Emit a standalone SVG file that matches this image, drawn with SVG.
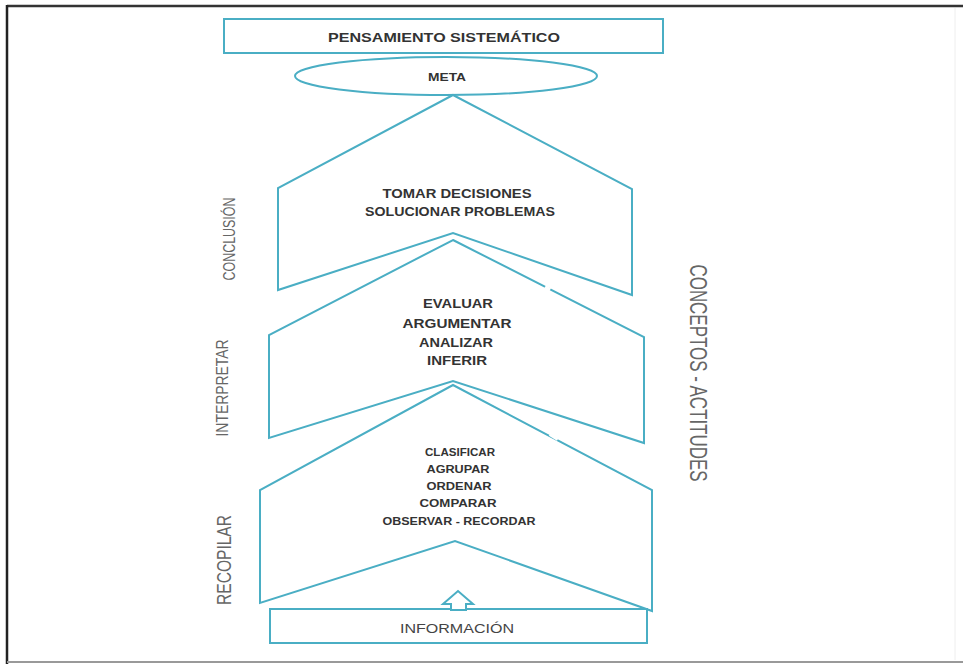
<svg xmlns="http://www.w3.org/2000/svg" width="963" height="664" viewBox="0 0 963 664">
<style>
.sh{fill:none;stroke:#4aaec4;stroke-width:2;stroke-linejoin:miter}
.t{font-family:"Liberation Sans",Arial,sans-serif;font-weight:bold;fill:#333;text-anchor:middle;font-size:12px}
.s{font-family:"Liberation Sans",Arial,sans-serif;font-weight:bold;fill:#333;text-anchor:middle;font-size:10.5px}
.v{font-family:"Liberation Sans",Arial,sans-serif;fill:#666;text-anchor:middle}
</style>
<rect width="963" height="664" fill="#fff"/>
<g id="frame">
<line x1="7" y1="6" x2="963" y2="6" stroke="#333" stroke-width="2.5"/>
<line x1="7" y1="5" x2="7" y2="664" stroke="#222" stroke-width="2.5"/>
<line x1="7" y1="662" x2="963" y2="662" stroke="#999" stroke-width="2"/>
<line x1="955" y1="8" x2="955" y2="660" stroke="#eee" stroke-width="1"/>
</g>
<g id="pensamiento">
<rect class="sh" x="224" y="19" width="439" height="34"/>
<text class="t" x="444" y="42" textLength="232" lengthAdjust="spacingAndGlyphs">PENSAMIENTO  SISTEMÁTICO</text>
</g>
<g id="meta">
<ellipse class="sh" cx="446" cy="76" rx="151" ry="19"/>
<text class="s" x="447" y="81" textLength="38" lengthAdjust="spacingAndGlyphs">META</text>
</g>
<g id="conclusion">
<polygon class="sh" points="453,95 632,189 632,295 453,233 278,290 278,188"/>
<text class="t" x="457" y="198" textLength="149" lengthAdjust="spacingAndGlyphs">TOMAR DECISIONES</text>
<text class="t" x="460" y="216" textLength="190" lengthAdjust="spacingAndGlyphs">SOLUCIONAR PROBLEMAS</text>
</g>
<g id="interpretar">
<polygon class="sh" points="453,240 644,337 644,443 453,381 269,438 269,335"/>
<text class="t" x="458" y="308" textLength="70" lengthAdjust="spacingAndGlyphs">EVALUAR</text>
<text class="t" x="457" y="328" textLength="109" lengthAdjust="spacingAndGlyphs">ARGUMENTAR</text>
<text class="t" x="456" y="347" textLength="74" lengthAdjust="spacingAndGlyphs">ANALIZAR</text>
<text class="t" x="457" y="365" textLength="60" lengthAdjust="spacingAndGlyphs">INFERIR</text>
</g>
<g id="recopilar">
<polygon class="sh" points="453,385 652,490 652,611 455,541 260,603 260,490"/>
<text class="s" x="460" y="456" textLength="70" lengthAdjust="spacingAndGlyphs">CLASIFICAR</text>
<text class="s" x="458" y="473" textLength="63" lengthAdjust="spacingAndGlyphs">AGRUPAR</text>
<text class="s" x="459" y="490" textLength="65" lengthAdjust="spacingAndGlyphs">ORDENAR</text>
<text class="s" x="458" y="507" textLength="77" lengthAdjust="spacingAndGlyphs">COMPARAR</text>
<text class="s" x="459" y="525" textLength="153" lengthAdjust="spacingAndGlyphs">OBSERVAR - RECORDAR</text>
</g>
<g id="gaps">
<line x1="545" y1="287" x2="550" y2="290" stroke="#fff" stroke-width="4"/>
<line x1="550" y1="434" x2="558" y2="439" stroke="#fff" stroke-width="4"/>
</g>
<g id="informacion">
<rect class="sh" x="270" y="609" width="377" height="34"/>
<text class="t" x="457" y="633" textLength="114" lengthAdjust="spacingAndGlyphs" style="font-weight:normal;fill:#444;font-size:13px">INFORMACIÓN</text>
</g>
<g id="connectors">
<polygon class="sh" fill="#fff" style="fill:#fff" points="451,610 451,604 443,604 458,591 473,604 466,604 466,610"/>
</g>
<g id="labels">
<text class="v" font-size="17" transform="translate(235,239) rotate(-90)" textLength="83" lengthAdjust="spacingAndGlyphs">CONCLUSIÓN</text>
<text class="v" font-size="17" transform="translate(228,388) rotate(-90)" textLength="97" lengthAdjust="spacingAndGlyphs">INTERPRETAR</text>
<text class="v" font-size="20" transform="translate(231,560) rotate(-90)" textLength="90" lengthAdjust="spacingAndGlyphs">RECOPILAR</text>
<text class="v" font-size="24" transform="translate(690,373) rotate(90)" textLength="217" lengthAdjust="spacingAndGlyphs">CONCEPTOS - ACTITUDES</text>
</g>
</svg>
